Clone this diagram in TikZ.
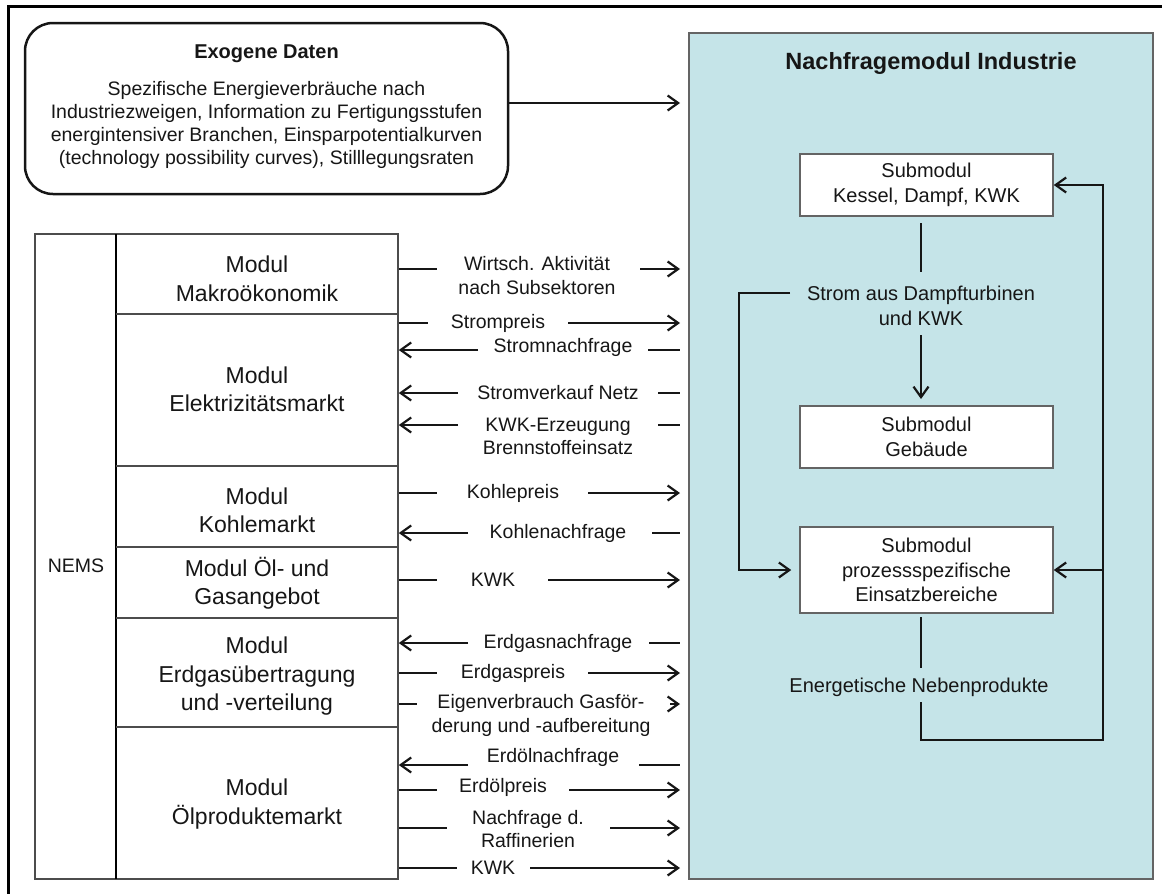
\documentclass[tikz,border=0pt]{standalone}
\usepackage{fontspec}
\setmainfont{Liberation Sans}
\usetikzlibrary{arrows.meta}
\definecolor{panelblue}{RGB}{197,228,232}
\definecolor{ink}{RGB}{22,22,22}
\definecolor{edgegray}{RGB}{100,100,100}

% flow from a NEMS module towards the industry module: stub, label gap, arrow
\newcommand\toPanel[3]{%
  \draw[wire] (nems.east |- 0,#1) -- (#2,#1);
  \draw[arr] (#3,#1) -- (pin |- 0,#1);}
% flow from the industry module back to a NEMS module
\newcommand\fromPanel[3]{%
  \draw[arr] (#2,#1) -- (nems.east |- 0,#1);
  \draw[wire] (#3,#1) -- (pin |- 0,#1);}

\begin{document}
\begin{tikzpicture}[x=1pt,y=-1pt,
  lbl/.style={inner sep=0pt, align=center, text=ink, font=\fontsize{19.5pt}{23.3pt}\selectfont},
  modlbl/.style={lbl, font=\fontsize{23pt}{28.5pt}\selectfont},
  subbox/.style={draw=edgegray, line width=1.5pt, fill=white, minimum width=253pt,
    align=center, text=ink, inner sep=0pt, font=\fontsize{20pt}{24.5pt}\selectfont},
  wire/.style={line width=2.2pt, draw=ink},
  arr/.style={wire, -{Straight Barb[length=10.5pt,width=15pt]}},
  gridline/.style={line width=1.6pt, draw=black!70},
]
\useasboundingbox (0,0) rectangle (1162,894);

% outer frame
\draw[line width=3pt] (8,900) -- (8,6) -- (1170,6);

% exogenous data
\node[draw=ink, line width=2.5pt, rounded corners=28pt, minimum width=483pt,
      minimum height=171pt, inner sep=0pt] (exo) at (266.5,108.5) {};
\node[lbl, font=\fontsize{20pt}{24pt}\selectfont\bfseries] (exotitle) at (266.5,54) {Exogene Daten};
\node[lbl] (exotext) at (266.5,125) {Spezifische Energieverbräuche nach\\
  Industriezweigen, Information zu Fertigungsstufen\\
  energintensiver Branchen, Einsparpotentialkurven\\
  (technology possibility curves), Stilllegungsraten};

% industry demand module
\node[draw=edgegray, line width=2pt, fill=panelblue, minimum width=464pt,
      minimum height=846pt, inner sep=0pt] (panel) at (921,456) {};
\coordinate (pin) at (680,0);
\draw[arr] ([yshift=5.5pt]exo.east) -- ([yshift=5.5pt]exo.east -| pin);

\node[lbl, font=\fontsize{23.5pt}{28pt}\selectfont\bfseries] (ptitle) at (931,63) {Nachfragemodul Industrie};
\node[subbox, minimum height=62pt] (kessel) at (926.5,185) {Submodul\\Kessel, Dampf, KWK};
\node[subbox, minimum height=62pt] (gebaeude) at (926.5,437) {Submodul\\Gebäude};
\node[subbox, minimum height=86pt] (prozess) at (926.5,570) {Submodul\\prozessspezifische\\Einsatzbereiche};
\node[lbl, font=\fontsize{20pt}{25pt}\selectfont] (strom) at (921,305.5) {Strom aus Dampfturbinen\\und KWK};
\node[lbl, font=\fontsize{20pt}{24pt}\selectfont] (neben) at (919,687) {Energetische Nebenprodukte};

\coordinate (k1) at (921,223);
\coordinate (k2) at (921,272);
\coordinate (g1) at (921,335);
\coordinate (g2) at (921,399);
\coordinate (sL) at (790,293);
\coordinate (lx) at (739,0);
\coordinate (p1) at (921,617);
\coordinate (p2) at (921,668);
\coordinate (n1) at (921,702);
\coordinate (rB) at (1103,740);

\draw[wire] (k1) -- (k2);
\draw[arr] (g1) -- (g2);
\draw[arr, shorten >=8pt] (sL) -- (sL -| lx) -- (lx |- prozess.west) -- (prozess.west);
\draw[wire] (p1) -- (p2);
\draw[arr] (n1) -- (n1 |- rB) -- (rB) -- (rB |- kessel.east) -- (kessel.east);
\draw[arr] (rB |- prozess.east) -- (prozess.east);

% NEMS modules
\node[draw=black!70, line width=1.6pt, minimum width=363pt, minimum height=645pt,
      inner sep=0pt] (nems) at (216.5,556.5) {};
\draw[line width=2.6pt] (116,234) -- (116,879);
\draw[gridline] (116,314) -- (nems.east |- 0,314);
\draw[gridline, line width=2.4pt] (116,466) -- (nems.east |- 0,466);
\draw[gridline] (116,547) -- (nems.east |- 0,547);
\draw[gridline] (116,618) -- (nems.east |- 0,618);
\draw[gridline] (116,727) -- (nems.east |- 0,727);

\node[lbl] (nemslbl) at (76,566) {NEMS};
\node[modlbl] (makro) at (257,279) {Modul\\Makroökonomik};
\node[modlbl] (elektr) at (257,389.5) {Modul\\Elektrizitätsmarkt};
\node[modlbl] (kohle) at (257,510.5) {Modul\\Kohlemarkt};
\node[modlbl] (oel) at (257,583.5) {Modul Öl- und\\Gasangebot};
\node[modlbl] (erdgas) at (257,676.5) {Modul\\Erdgasübertragung\\und -verteilung};
\node[modlbl] (oelprod) at (257,804) {Modul\\Ölproduktemarkt};

% exchanged quantities
\node[lbl] (f1) at (537,275.5) {Wirtsch. Aktivität\\nach Subsektoren};
\toPanel{269}{437}{640}
\node[lbl] (f2) at (498,323) {Strompreis};
\toPanel{323}{428}{568}
\node[lbl] (f3) at (563,347) {Stromnachfrage};
\fromPanel{350}{478}{648}
\node[lbl] (f4) at (558,393) {Stromverkauf Netz};
\fromPanel{393}{458}{658}
\node[lbl] (f5) at (558,436.5) {KWK-Erzeugung\\Brennstoffeinsatz};
\fromPanel{425}{458}{658}
\node[lbl] (f6) at (513,493) {Kohlepreis};
\toPanel{493}{437}{588}
\node[lbl] (f7) at (558,533) {Kohlenachfrage};
\fromPanel{533}{468}{652}
\node[lbl] (f8) at (493,580) {KWK};
\toPanel{580}{437}{548}
\node[lbl] (f9) at (558,643) {Erdgasnachfrage};
\fromPanel{643}{468}{649}
\node[lbl] (f10) at (513,673) {Erdgaspreis};
\toPanel{673}{437}{588}
\node[lbl] (f11) at (541,715.5) {Eigenverbrauch Gasför-\\derung und -aufbereitung};
\toPanel{704}{417}{670}
\node[lbl] (f12) at (553,757) {Erdölnachfrage};
\fromPanel{765}{468}{639}
\node[lbl] (f13) at (503,787) {Erdölpreis};
\toPanel{790}{437}{569}
\node[lbl] (f14) at (528,829) {Nachfrage d.\\Raffinerien};
\toPanel{828}{447}{610}
\node[lbl] (f15) at (493,868) {KWK};
\toPanel{868}{457}{530}
\end{tikzpicture}
\end{document}
